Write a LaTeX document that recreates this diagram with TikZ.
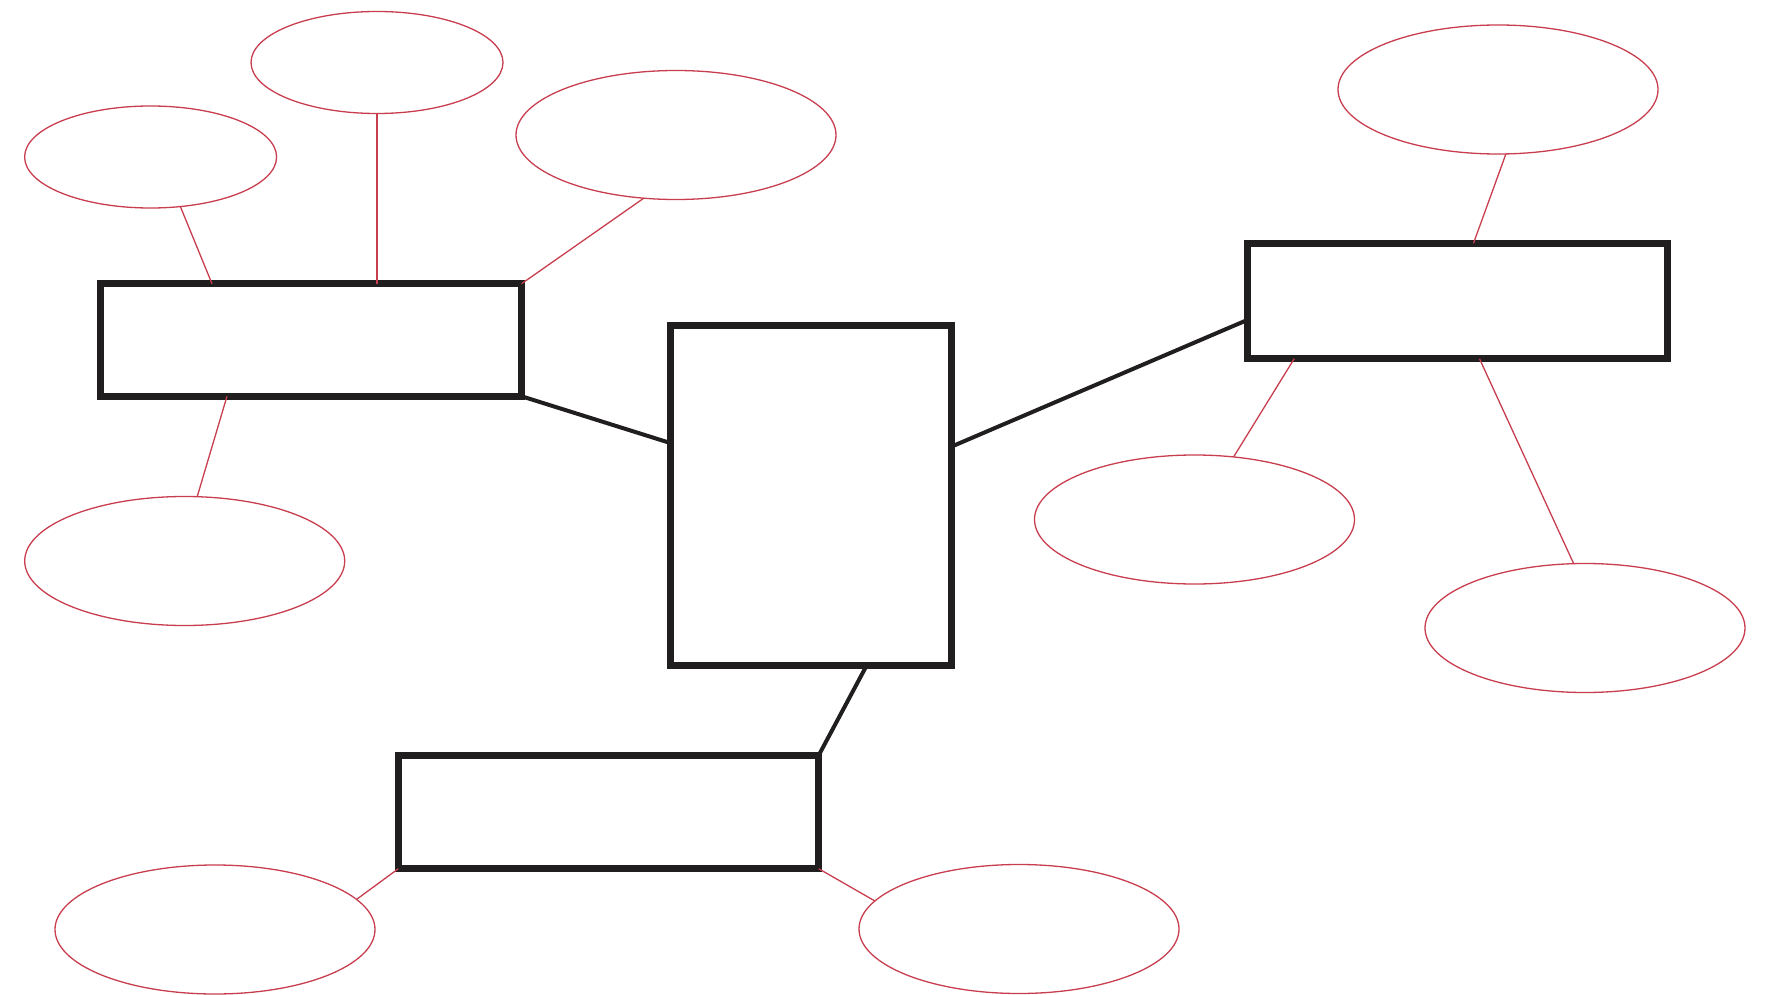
\documentclass[tikz,border=0pt]{standalone}
\usetikzlibrary{shapes.geometric}
\definecolor{redline}{RGB}{200,62,78}
\definecolor{boxline}{RGB}{33,30,31}
\begin{document}
\begin{tikzpicture}[x=1pt,y=-1pt,
  box/.style={draw=boxline,line width=7.3pt,rectangle,inner sep=0pt,outer sep=0pt,line join=miter},
  oval/.style={draw=redline,line width=1.3pt,ellipse,inner sep=0pt,outer sep=0pt},
  smalloval/.style={oval,minimum width=252pt,minimum height=102pt},
  largeoval/.style={oval,minimum width=320pt,minimum height=129pt},
  blink/.style={draw=boxline,line width=4pt},
  rlink/.style={draw=redline,line width=1.3pt}]
\useasboundingbox (0,0) rectangle (1775,995);
% boxes
\node[box,minimum width=421pt,minimum height=112.5pt] (A) at (311,340) {};
\node[box,minimum width=281.5pt,minimum height=340.5pt] (B) at (811,495.5) {};
\node[box,minimum width=420.5pt,minimum height=115.5pt] (C) at (1457.5,301) {};
\node[box,minimum width=420.5pt,minimum height=113.5pt] (D) at (608.5,812) {};
% ovals
\node[smalloval] (E1) at (150.6,157) {};
\node[smalloval] (E2) at (377,62.5) {};
\node[largeoval] (E3) at (676,135) {};
\node[largeoval] (E4) at (184.7,561) {};
\node[largeoval] (E5) at (1498,89.5) {};
\node[largeoval] (E6) at (1194.5,519.5) {};
\node[largeoval] (E7) at (1585,628) {};
\node[largeoval] (E8) at (215,929.5) {};
\node[largeoval] (E9) at (1019,929) {};
% black connectors
\draw[blink] (A.south east) -- ([yshift=52.5pt]B.west);
\draw[blink] ([yshift=49pt]B.east) -- ([yshift=-19pt]C.west);
\draw[blink] ([xshift=55.5pt]B.south) -- (D.north east);
% red connectors
\draw[rlink] (E1.-59.5) -- ([xshift=-99pt]A.north);
\draw[rlink] (E2.south) -- (E2.south |- A.north);
\draw[rlink] (E3.-117) -- (A.north east);
\draw[rlink] ([xshift=-84pt]A.south) -- (E4.79);
\draw[rlink] (E5.-83.6) -- ([xshift=16pt]C.north);
\draw[rlink] ([xshift=-163.3pt]C.south) -- (E6.58.9);
\draw[rlink] ([xshift=22pt]C.south) -- (E7.100.3);
\draw[rlink] (D.south west) -- (E8.12);
\draw[rlink] (D.south east) -- (E9.169.5);
\end{tikzpicture}
\end{document}
